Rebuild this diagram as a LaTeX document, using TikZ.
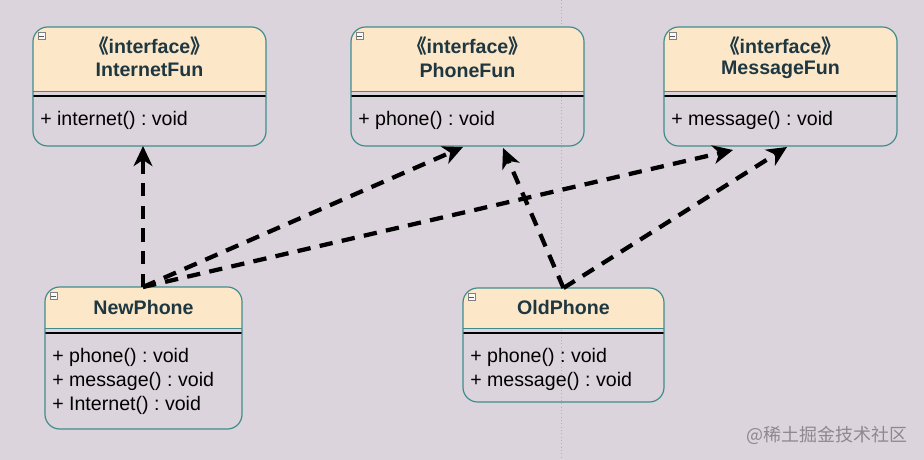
\documentclass[tikz,border=0pt]{standalone}
\usepackage{fontspec}
\setmainfont{Liberation Sans}
\newfontfamily\cjk{Noto Sans CJK SC}
\usetikzlibrary{arrows.meta,fit,calc}
\frenchspacing
\definecolor{bg}{RGB}{220,212,220}
\definecolor{hdr}{RGB}{252,232,201}
\definecolor{bord}{RGB}{62,140,140}
\definecolor{ttl}{RGB}{30,55,65}
\definecolor{wmk}{RGB}{140,136,142}
\tikzset{
  boxfit/.style={inner sep=0pt, outer sep=0pt},
  border/.style={draw=bord, line width=0.9pt, rounded corners=11pt},
  title/.style={font=\fontsize{14.7}{17}\selectfont\bfseries, text=ttl, inner sep=0pt},
  meth/.style={font=\fontsize{14.7}{17}\selectfont, anchor=west, inner sep=0pt},
  realize/.style={line width=3.2pt, dash pattern=on 10pt off 7pt,
     -{Stealth[length=15pt,width=14pt,inset=4.5pt]}},
  icon/.style={draw=gray, fill=white!95!gray, line width=0.4pt, minimum size=5.2pt, inner sep=0pt}
}
\newcommand\umlbox[6]{%
  \node[boxfit, fit={(#2,#3)(#4,#5)}] (#1) {};
  \begin{scope}
    \clip[rounded corners=11pt] (#2,#3) rectangle (#4,#5);
    \fill[hdr] (#2,#3) rectangle (#4,#6);
  \end{scope}
  \draw[bord, line width=0.6pt] (#2,#6) -- (#4,#6);
  \draw[black, line width=0.8pt] (#2,#6+5) -- (#4,#6+5);
  \draw[border] (#2,#3) rectangle (#4,#5);
  \node[icon] (#1-ico) at (#2+8.5,#3+9) {};
  \draw[gray!70!black, line width=0.5pt] ($(#1-ico.center)+(-2.5,0)$) -- ($(#1-ico.center)+(2.5,0)$);
}
\begin{document}
\begin{tikzpicture}[x=0.75pt,y=-0.75pt]
\fill[bg] (0,0) rectangle (924,460);
\useasboundingbox (0,0) rectangle (924,460);
\draw[gray!60, line width=0.5pt, dotted] (561,0) -- (561,460);

\umlbox{if}{33}{27}{266}{146}{91}
\umlbox{pf}{351}{27}{584}{146}{91}
\umlbox{mf}{664}{27}{897}{146}{91}
\umlbox{np}{45}{287}{242}{429}{328}
\umlbox{op}{463}{288}{664}{402}{328}

\node[title] (if-st) at (149.5,46) {{\cjk 《}interface{\cjk 》}};
\node[title] (if-nm) at (149.5,70) {InternetFun};
\node[meth] (if-m1) at (40,120) {+ internet() : void};

\node[title] (pf-st) at (467.5,46) {{\cjk 《}interface{\cjk 》}};
\node[title] (pf-nm) at (467.5,70) {PhoneFun};
\node[meth] (pf-m1) at (358,120) {+ phone() : void};

\node[title] (mf-st) at (780.5,46) {{\cjk 《}interface{\cjk 》}};
\node[title] (mf-nm) at (780.5,70) {MessageFun};
\node[meth] (mf-m1) at (671,120) {+ message() : void};

\node[title] (np-nm) at (143.5,307) {NewPhone};
\node[meth] (np-m1) at (52,357) {+ phone() : void};
\node[meth] (np-m2) at (52,381) {+ message() : void};
\node[meth] (np-m3) at (52,405) {+ Internet() : void};

\node[title] (op-nm) at (563.5,307) {OldPhone};
\node[meth] (op-m1) at (470,357) {+ phone() : void};
\node[meth] (op-m2) at (470,381) {+ message() : void};

\draw[realize] ($(np.north)+(-0.5,0)$) -- ($(if.south)+(-6.5,0)$);
\draw[realize] ($(np.north)+(-0.5,0)$) -- ($(pf.south)+(-4.5,1)$);
\draw[realize] ($(np.north)+(-0.5,0)$) -- ($(mf.south)+(-47.5,4)$);
\draw[realize] (op.north) -- ($(pf.south)+(35.5,2)$);
\draw[realize] (op.north) -- ($(mf.south)+(6.5,1)$);

\node[font=\cjk\fontsize{13.5}{16}\selectfont, text=wmk, anchor=east, inner sep=0pt] (wm) at (908,435) {@稀土掘金技术社区};
\end{tikzpicture}
\end{document}
